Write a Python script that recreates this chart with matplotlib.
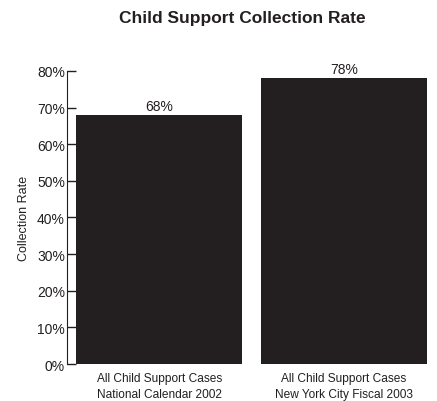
import matplotlib
matplotlib.use('Agg')
import matplotlib.pyplot as plt
from matplotlib.ticker import PercentFormatter

categories = ['All Child Support Cases\nNational Calendar 2002',
              'All Child Support Cases\nNew York City Fiscal 2003']
rates = [68, 78]
bar_labels = ['68%', '78%']

plt.rcParams['font.family'] = ['Liberation Sans', 'DejaVu Sans']

fig = plt.figure(figsize=(4.37, 4.02), dpi=100)
ax = fig.add_axes([0.1533, 0.092, 0.845, 0.729])

x_pos = list(range(len(categories)))
bars = ax.bar(x_pos, rates, width=0.9, color='#231f20', zorder=3)
for b, lab in zip(bars, bar_labels):
    ax.text(b.get_x() + b.get_width() / 2, b.get_height() + 0.6, lab,
            ha='center', va='bottom', fontsize=10, color='#231f20')

ax.set_xlim(-0.5, 1.5)
ax.set_ylim(0, 80)
ax.set_yticks(range(0, 81, 10))
ax.yaxis.set_major_formatter(PercentFormatter(decimals=0))
ax.set_xticks(x_pos)
ax.set_xticklabels(categories, fontsize=8.6, color='#231f20', linespacing=1.45)
ax.tick_params(axis='x', length=0, pad=5.5)
ax.tick_params(axis='y', direction='in', length=6.5, width=1, labelsize=10,
               labelcolor='#231f20', color='#231f20', pad=1.5)
for s in ['top', 'right', 'bottom']:
    ax.spines[s].set_visible(False)
ax.spines['left'].set_color('#231f20')
ax.set_ylabel('Collection Rate', fontsize=9, color='#231f20', labelpad=5)

fig.text(0.555, 0.955, 'Child Support Collection Rate', ha='center', va='center',
         fontsize=12.5, fontweight='bold', color='#231f20')

fig.savefig('out.png')
